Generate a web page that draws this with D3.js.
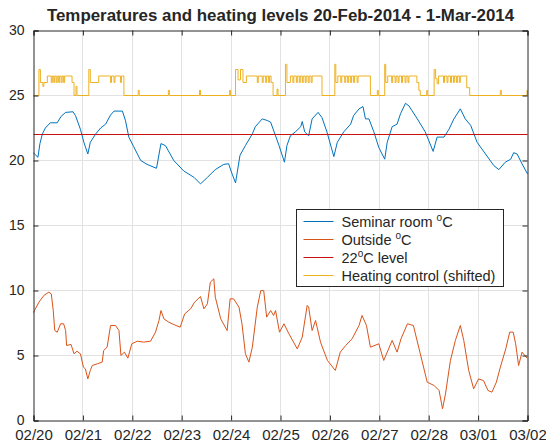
<!DOCTYPE html>
<html>
<head>
<meta charset="utf-8">
<script src="https://cdn.jsdelivr.net/npm/d3@7/dist/d3.min.js"></script>
<style>
body { margin: 0; background: #fff; }
svg text { font-family: "Liberation Sans", Arial, Helvetica, sans-serif; fill: #262626; }
</style>
</head>
<body>
<div id="chart"></div>
<script>
// x = days since 20-Feb-2014 00:00, y = degrees C
var seminarRoom = [
  [0.00,20.6],[0.02,20.5],[0.09,20.25],[0.13,21.3],[0.18,22.05],[0.24,22.5],[0.34,22.9],[0.48,22.9],
  [0.56,23.4],[0.65,23.7],[0.80,23.75],[0.85,23.45],[0.95,22.4],[1.02,21.4],[1.10,20.5],[1.15,21.4],
  [1.26,22.05],[1.36,22.5],[1.46,22.8],[1.56,23.5],[1.63,23.8],[1.80,23.8],[1.86,23.1],[1.93,21.8],
  [2.03,21.05],[2.17,20.0],[2.30,19.7],[2.49,19.4],[2.58,21.3],[2.67,21.15],[2.84,20.0],[3.04,19.2],
  [3.25,18.7],[3.38,18.2],[3.52,18.7],[3.68,19.3],[3.85,19.7],[3.95,19.75],[4.02,18.97],[4.09,18.28],
  [4.18,20.4],[4.29,21.15],[4.43,22.05],[4.49,22.6],[4.63,23.2],[4.73,23.08],[4.80,22.95],[4.90,21.9],
  [4.97,21.15],[5.08,19.87],[5.13,21.15],[5.20,21.9],[5.30,22.2],[5.41,22.6],[5.44,23.0],[5.49,22.2],
  [5.57,21.9],[5.64,23.2],[5.76,23.7],[5.84,23.3],[5.94,22.2],[6.08,20.3],[6.15,21.4],[6.28,22.2],
  [6.42,22.8],[6.48,23.46],[6.59,23.97],[6.67,24.15],[6.72,23.2],[6.79,23.2],[6.89,22.2],[6.99,21.0],
  [7.11,20.1],[7.16,21.4],[7.26,22.6],[7.36,22.8],[7.43,23.6],[7.53,24.4],[7.60,24.2],[7.66,23.85],
  [7.77,23.2],[7.93,22.2],[8.09,20.7],[8.17,21.8],[8.31,21.8],[8.41,22.4],[8.51,23.2],[8.64,23.97],
  [8.74,23.2],[8.85,22.7],[8.98,21.4],[9.15,20.5],[9.32,19.6],[9.42,19.3],[9.55,19.87],[9.66,20.1],
  [9.72,20.6],[9.79,20.5],[9.89,19.74],[10.0,18.97]
];

var outside = [
  [0.00,8.3],[0.02,8.46],[0.11,9.1],[0.21,9.62],[0.31,9.87],[0.36,9.74],[0.40,8.46],[0.43,6.92],
  [0.48,6.79],[0.55,7.44],[0.61,7.44],[0.65,6.92],[0.67,5.77],[0.76,5.85],[0.82,5.13],[0.88,5.33],
  [0.95,5.13],[1.01,4.1],[1.05,3.97],[1.10,3.2],[1.15,3.85],[1.19,4.23],[1.29,4.36],[1.39,4.49],
  [1.42,5.38],[1.49,5.64],[1.56,7.31],[1.66,7.31],[1.73,6.92],[1.77,5.0],[1.84,5.26],[1.91,4.8],
  [1.99,5.9],[2.10,6.1],[2.23,6.03],[2.37,6.1],[2.47,6.8],[2.54,7.69],[2.58,8.46],[2.64,7.82],
  [2.74,7.56],[2.84,7.38],[2.97,7.18],[3.06,8.2],[3.18,8.59],[3.26,9.1],[3.38,9.54],[3.45,8.59],
  [3.52,8.97],[3.58,10.64],[3.65,10.9],[3.68,9.49],[3.79,7.82],[3.92,6.92],[3.98,9.36],[4.05,9.36],
  [4.16,8.72],[4.22,7.44],[4.29,5.13],[4.36,4.49],[4.43,5.64],[4.53,8.72],[4.60,9.99],[4.66,9.99],
  [4.72,7.95],[4.80,8.46],[4.86,8.08],[4.90,8.46],[4.98,6.79],[5.07,7.44],[5.17,6.67],[5.34,5.51],
  [5.44,6.41],[5.54,8.85],[5.57,8.72],[5.64,6.92],[5.71,7.69],[5.81,6.03],[5.95,4.62],[6.11,3.85],
  [6.21,5.26],[6.32,5.77],[6.45,6.29],[6.59,7.31],[6.65,8.08],[6.74,7.31],[6.82,5.64],[6.99,5.9],
  [7.09,4.62],[7.26,6.16],[7.36,5.26],[7.44,6.29],[7.57,7.44],[7.69,7.31],[7.83,5.13],[7.97,2.95],
  [8.11,2.69],[8.21,2.31],[8.28,0.9],[8.34,2.05],[8.44,4.62],[8.54,6.16],[8.64,7.31],[8.71,6.16],
  [8.81,3.85],[8.91,2.44],[9.01,3.2],[9.11,3.07],[9.20,2.31],[9.28,2.18],[9.37,2.95],[9.45,4.1],
  [9.56,5.51],[9.64,6.8],[9.71,6.8],[9.76,5.9],[9.82,4.23],[9.89,5.26],[9.99,4.8]
];

var level22 = [[0,22],[10,22]];

// step signal (value holds until next point)
var heatingControl = [
  [0.00,25],[0.11,27],[0.14,26],[0.19,25.7],[0.21,26],[0.28,26.5],[0.36,26],[0.38,26.5],[0.41,26],
  [0.43,26.5],[0.46,26],[0.48,26.5],[0.51,26],[0.53,26.5],[0.56,26],[0.58,26.5],[0.61,26],[0.63,26.5],
  [0.78,26],[0.82,25],[0.86,25.7],[0.88,25],
  [1.12,27],[1.15,26],[1.32,26.5],[1.56,26],[1.58,26.5],[1.63,26],[1.65,26.5],[1.76,26],[1.78,26.5],[1.83,25],
  [2.12,25.4],[2.14,25],[2.73,25.4],[2.75,25],[3.36,25.4],[3.38,25],[3.97,25.4],[3.99,25],
  [4.09,27],[4.14,26.2],[4.19,27],[4.24,26],[4.31,26.5],[4.53,26],[4.55,26.5],[4.63,26],[4.65,26.5],
  [4.70,26],[4.72,26.5],[4.76,26],[4.78,26.5],[4.81,26],[4.85,25],[4.93,25.5],[4.95,25],
  [5.10,27.4],[5.13,26],[5.20,26.5],[5.25,26],[5.27,26.5],[5.32,26],[5.34,26.5],[5.38,26],[5.40,26.5],
  [5.44,26],[5.46,26.5],[5.50,26],[5.52,26.5],[5.56,26],[5.58,26.5],[5.62,26],[5.64,26.5],[5.84,25],
  [6.10,27.4],[6.12,26],[6.16,26.5],[6.22,26],[6.24,26.5],[6.30,26],[6.32,26.5],[6.36,26],[6.38,26.5],
  [6.42,26],[6.44,26.5],[6.48,26],[6.50,26.5],[6.55,26],[6.57,26.5],[6.82,25],[6.96,25.4],[6.98,25],
  [7.11,27.4],[7.13,26],[7.17,26.5],[7.25,26],[7.27,26.5],[7.32,26],[7.34,26.5],[7.38,26],[7.40,26.5],
  [7.45,26],[7.47,26.5],[7.52,26],[7.54,26.5],[7.58,26],[7.60,26.5],[7.76,26],[7.80,25.4],[7.83,25],
  [7.96,25.4],[7.98,25],
  [8.11,27],[8.14,26.3],[8.17,25.9],[8.20,26.5],[8.30,26],[8.32,26.5],[8.37,26],[8.39,26.5],[8.44,26],
  [8.46,26.5],[8.50,26],[8.52,26.5],[8.56,26],[8.58,26.5],[8.62,26],[8.64,26.5],[8.77,25.6],[8.83,25],
  [9.45,25.4],[9.47,25],[9.99,25.4],[10.0,25]
];

var dayTicks = [0,1,2,3,4,5,6,7,8,9,10];
var dayLabels = ["02/20","02/21","02/22","02/23","02/24","02/25","02/26","02/27","02/28","03/01","03/02"];
var tempTicks = [0,5,10,15,20,25,30];
var seriesNames = [["Seminar room ","o","C"],["Outside ","o","C"],["22","o","C level"],["Heating control (shifted)","",""]];
var seriesColors = ["#0072BD","#D95319","#CC1010","#EDB120"];

var W = 546, H = 442;
var margin = {top: 30.5, right: 18.5, bottom: 21.5, left: 33.5},
    width = W - margin.left - margin.right,
    height = H - margin.top - margin.bottom;

var x = d3.scaleLinear().domain([0, 10]).range([0, width]);
var y = d3.scaleLinear().domain([0, 30]).range([height, 0]);

var root = d3.select("#chart").append("svg").attr("width", W).attr("height", H);
var svg = root.append("g").attr("transform", "translate(" + margin.left + "," + margin.top + ")");

// grid
svg.append("g").selectAll("line").data(dayTicks.slice(1, -1)).enter().append("line")
  .attr("x1", function (d) { return Math.round(x(d)); }).attr("x2", function (d) { return Math.round(x(d)); })
  .attr("y1", 0).attr("y2", height).attr("stroke", "#e2e2e2").attr("stroke-width", 1);
svg.append("g").selectAll("line").data(tempTicks.slice(1, -1)).enter().append("line")
  .attr("y1", function (d) { return Math.round(y(d)); }).attr("y2", function (d) { return Math.round(y(d)); })
  .attr("x1", 0).attr("x2", width).attr("stroke", "#e2e2e2").attr("stroke-width", 1);

var line = d3.line().x(function (d) { return x(d[0]); }).y(function (d) { return y(d[1]); });
var stepLine = d3.line().curve(d3.curveStepAfter).x(function (d) { return x(d[0]); }).y(function (d) { return y(d[1]); });

var series = [seminarRoom, outside, level22];
series.forEach(function (s, i) {
  svg.append("path").datum(s).attr("d", line).attr("fill", "none")
    .attr("stroke", seriesColors[i]).attr("stroke-width", 1).attr("stroke-linejoin", "round");
});
svg.append("path").datum(heatingControl).attr("d", stepLine).attr("fill", "none")
  .attr("stroke", seriesColors[3]).attr("stroke-width", 1);

// axes: ticks inward, on all four sides
var tl = 5;
var xAxisG = svg.append("g").attr("transform", "translate(0," + height + ")")
  .call(d3.axisBottom(x).tickValues(dayTicks).tickSize(-tl).tickPadding(9).tickFormat(function (d, i) { return dayLabels[i]; }));
svg.append("g")
  .call(d3.axisTop(x).tickValues(dayTicks).tickSize(-tl).tickFormat(""));
var yAxisG = svg.append("g")
  .call(d3.axisLeft(y).tickValues(tempTicks).tickSize(-tl).tickPadding(9));
svg.append("g").attr("transform", "translate(" + width + ",0)")
  .call(d3.axisRight(y).tickValues(tempTicks).tickSize(-tl).tickFormat(""));

root.selectAll(".domain").attr("stroke", "#262626");
root.selectAll(".tick line").attr("stroke", "#262626");
yAxisG.selectAll(".tick text").style("font-size", "14px").attr("fill", "#262626").attr("dy", "0.3em");
xAxisG.selectAll(".tick text").style("font-size", "15px").attr("fill", "#262626");

// title
svg.append("text").attr("x", width / 2).attr("y", -10).attr("text-anchor", "middle")
  .style("font-size", "16.9px").style("font-weight", "bold").attr("fill", "#000")
  .text("Temperatures and heating levels 20-Feb-2014 - 1-Mar-2014");

// legend
var lg = root.append("g").attr("transform", "translate(296.5,209.5)");
lg.append("rect").attr("width", 207).attr("height", 77).attr("fill", "#fff").attr("stroke", "#262626").attr("stroke-width", 1);
seriesNames.forEach(function (n, i) {
  var cy = 12 + i * 18;
  lg.append("line").attr("x1", 7).attr("x2", 37).attr("y1", cy).attr("y2", cy)
    .attr("stroke", seriesColors[i]).attr("stroke-width", 1);
  var t = lg.append("text").attr("x", 45).attr("y", cy + 5).style("font-size", "14.5px");
  t.append("tspan").text(n[0]);
  if (n[1]) {
    t.append("tspan").attr("dy", -6).style("font-size", "10px").text(n[1]);
    t.append("tspan").attr("dy", 6).text(n[2]);
  }
});
</script>
</body>
</html>
